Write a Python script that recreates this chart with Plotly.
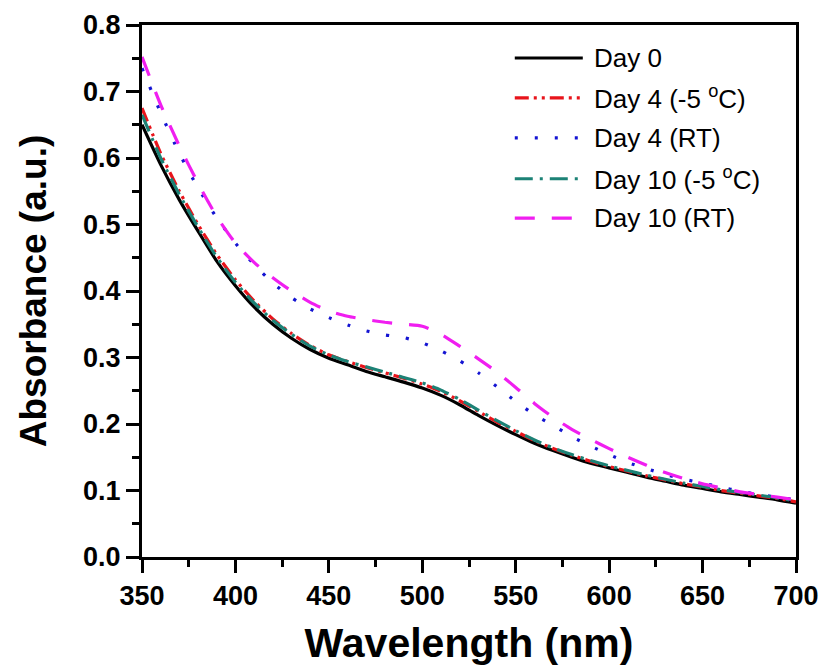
import plotly.graph_objects as go

wavelength = [350, 360, 370, 380, 390, 400, 410, 420, 430, 440, 450, 460, 470, 480, 490, 500,
              510, 520, 530, 540, 550, 560, 570, 580, 590, 600, 610, 620, 630, 640, 650, 660,
              670, 680, 690, 700]

day0 = [0.650, 0.590, 0.537, 0.490, 0.445, 0.408, 0.376, 0.350, 0.329, 0.312, 0.299, 0.289,
        0.279, 0.271, 0.263, 0.254, 0.243, 0.229, 0.213, 0.198, 0.184, 0.171, 0.160, 0.150,
        0.141, 0.134, 0.127, 0.120, 0.114, 0.108, 0.103, 0.098, 0.094, 0.090, 0.086, 0.081]

day4_cold = [0.675, 0.607, 0.550, 0.500, 0.455, 0.417, 0.385, 0.358, 0.336, 0.318, 0.304, 0.294,
             0.285, 0.277, 0.269, 0.260, 0.249, 0.235, 0.219, 0.203, 0.189, 0.175, 0.163, 0.153,
             0.144, 0.136, 0.129, 0.122, 0.116, 0.110, 0.105, 0.100, 0.096, 0.092, 0.088, 0.083]

day4_rt = [0.735, 0.668, 0.607, 0.555, 0.510, 0.472, 0.440, 0.412, 0.390, 0.373, 0.360, 0.349,
           0.340, 0.334, 0.330, 0.322, 0.310, 0.295, 0.277, 0.256, 0.234, 0.214, 0.198, 0.181,
           0.167, 0.154, 0.142, 0.133, 0.124, 0.117, 0.111, 0.105, 0.099, 0.094, 0.090, 0.086]

day10_cold = [0.665, 0.600, 0.545, 0.496, 0.451, 0.413, 0.382, 0.356, 0.335, 0.317, 0.304, 0.294,
              0.286, 0.278, 0.270, 0.262, 0.251, 0.237, 0.221, 0.205, 0.190, 0.176, 0.164, 0.154,
              0.145, 0.137, 0.130, 0.123, 0.117, 0.111, 0.106, 0.101, 0.097, 0.093, 0.089, 0.084]

day10_rt = [0.752, 0.680, 0.618, 0.562, 0.512, 0.472, 0.443, 0.420, 0.400, 0.383, 0.370, 0.362,
            0.357, 0.353, 0.350, 0.347, 0.335, 0.317, 0.298, 0.278, 0.255, 0.231, 0.210, 0.192,
            0.177, 0.163, 0.150, 0.138, 0.127, 0.118, 0.110, 0.104, 0.098, 0.094, 0.090, 0.086]

series_names = ["Day 0", "Day 4 (-5 <sup>o</sup>C)", "Day 4 (RT)",
                "Day 10 (-5 <sup>o</sup>C)", "Day 10 (RT)"]
series_values = [day0, day4_cold, day4_rt, day10_cold, day10_rt]
colors = ["#000000", "#e8141b", "#1414d2", "#1c8276", "#f01ef0"]
dashes = ["solid", "14px,5px,3px,5px,3px,5px", "3px,17px", "18px,7px,3px,7px", "20px,17px"]

x_ticks = [350, 400, 450, 500, 550, 600, 650, 700]
y_ticks = [0.0, 0.1, 0.2, 0.3, 0.4, 0.5, 0.6, 0.7, 0.8]

FONT = "Liberation Sans, Arial, sans-serif"

fig = go.Figure()
for name, vals, c, d in zip(series_names, series_values, colors, dashes):
    fig.add_trace(go.Scatter(x=wavelength, y=vals, mode="lines", name=name,
                             line=dict(color=c, width=3.2, dash=d, shape="spline", smoothing=0.6),
                             showlegend=False))

# custom legend (long sample lines as in the reference)
leg_x0, leg_x1, leg_tx = 0.570, 0.674, 0.688
leg_y = [0.938, 0.863, 0.788, 0.711, 0.637]
for name, c, d, yy in zip(series_names, colors, dashes, leg_y):
    fig.add_shape(type="line", xref="paper", yref="paper", x0=leg_x0, x1=leg_x1, y0=yy, y1=yy,
                  line=dict(color=c, width=3.2, dash=d))
    fig.add_annotation(xref="paper", yref="paper", x=leg_tx, y=yy, text=name, showarrow=False,
                       xanchor="left", yanchor="middle",
                       font=dict(family=FONT, size=26, color="black"))

axis_common = dict(showline=True, linewidth=3, linecolor="black", mirror=True,
                   ticks="outside", ticklen=13, tickwidth=3, tickcolor="black",
                   showgrid=False, zeroline=False,
                   tickfont=dict(family=FONT, size=27, color="black", weight="bold"))

fig.update_xaxes(range=[350, 700], tickvals=x_ticks, ticktext=[str(v) for v in x_ticks],
                 minor=dict(ticks="outside", ticklen=7, tickwidth=3, tickcolor="black", dtick=25),
                 title=dict(text="Wavelength (nm)", standoff=18,
                            font=dict(family=FONT, size=41, color="black", weight="bold")),
                 **axis_common)
fig.update_yaxes(range=[0, 0.8], tickvals=y_ticks, ticktext=[f"{v:.1f}" for v in y_ticks],
                 minor=dict(ticks="outside", ticklen=7, tickwidth=3, tickcolor="black", dtick=0.05),
                 title=dict(text="Absorbance (a.u.)", standoff=26,
                            font=dict(family=FONT, size=37, color="black", weight="bold")),
                 **axis_common)

fig.update_layout(width=821, height=671,
                  margin=dict(l=142, r=25, t=25, b=114, autoexpand=False),
                  plot_bgcolor="white", paper_bgcolor="white", showlegend=False)

fig.write_html("out.html")
